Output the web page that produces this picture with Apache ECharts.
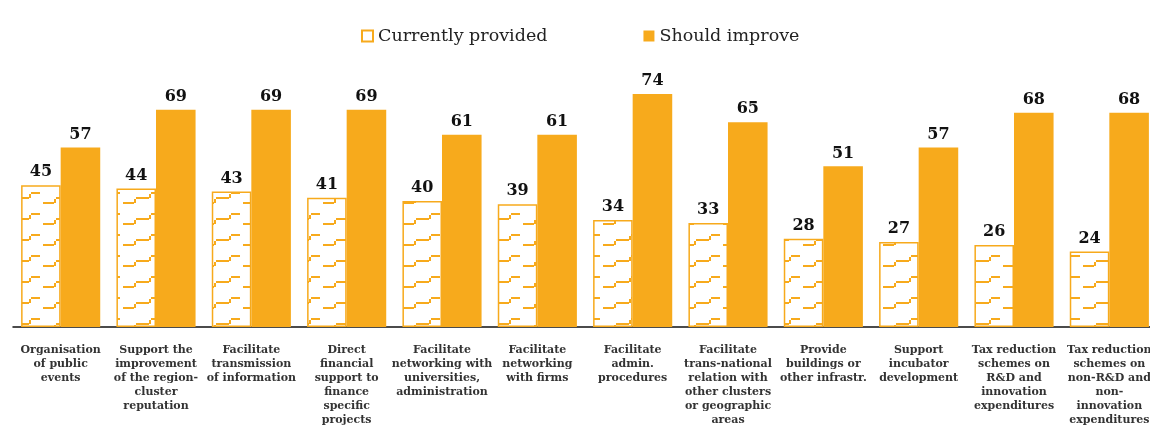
<!DOCTYPE html>
<html>
<head>
<meta charset="utf-8">
<script src="https://cdn.jsdelivr.net/npm/echarts@6/dist/echarts.min.js"></script>
<style>
html,body{margin:0;padding:0;background:#fff;overflow:hidden;}
#c{width:1158px;height:432px;}
</style>
</head>
<body>
<div id="c"></div>
<script>
const categories = [
  "Organisation\nof public\nevents",
  "Support the\nimprovement\nof the region-\ncluster\nreputation",
  "Facilitate\ntransmission\nof information",
  "Direct\nfinancial\nsupport to\nfinance\nspecific\nprojects",
  "Facilitate\nnetworking with\nuniversities,\nadministration",
  "Facilitate\nnetworking\nwith firms",
  "Facilitate\nadmin.\nprocedures",
  "Facilitate\ntrans-national\nrelation with\nother clusters\nor geographic\nareas",
  "Provide\nbuildings or\nother infrastr.",
  "Support\nincubator\ndevelopment",
  "Tax reduction\nschemes on\nR&D and\ninnovation\nexpenditures",
  "Tax reduction\nschemes on\nnon-R&D and\nnon-\ninnovation\nexpenditures"
];
const currentlyProvided = [45, 44, 43, 41, 40, 39, 34, 33, 28, 27, 26, 24];
const shouldImprove = [57, 69, 69, 69, 61, 61, 74, 65, 51, 57, 68, 68];
const seriesNames = ["Currently provided", "Should improve"];

const ORANGE = '#F7AA1C';
const SERIF = '"DejaVu Serif", "Liberation Serif", serif';

// hatch pattern tile for the "currently provided" bars
const tile = document.createElement('canvas');
tile.width = 40; tile.height = 21;
const g = tile.getContext('2d');
g.fillStyle = '#ffffff';
g.fillRect(0, 0, 40, 21);
g.fillStyle = ORANGE;
g.fillRect(3, 13, 11, 2);
g.fillRect(16, 8, 13, 2);
g.fillRect(31, 3, 9, 2);
g.fillRect(14, 10, 2, 4);
g.fillRect(29, 5, 2, 4);

const chart = echarts.init(document.getElementById('c'), null, {renderer: 'canvas'});
chart.setOption({
  animation: false,
  backgroundColor: '#ffffff',
  legend: {
    left: 356, top: 22,
    itemWidth: 11, itemHeight: 11, itemGap: 96,
    textStyle: {fontFamily: SERIF, fontSize: 17.5, color: '#222'},
    data: [
      {name: seriesNames[0], icon: 'rect', itemStyle: {color: '#fff', borderColor: ORANGE, borderWidth: 2}},
      {name: seriesNames[1], icon: 'rect', itemStyle: {color: ORANGE}}
    ]
  },
  grid: {left: 13, right: 1, top: 12, bottom: 105, containLabel: false},
  xAxis: {
    type: 'category',
    data: categories,
    axisLine: {lineStyle: {color: '#111', width: 1.5}},
    axisTick: {show: false},
    axisLabel: {
      interval: 0, margin: 16,
      fontFamily: SERIF, fontWeight: 'bold', fontSize: 11,
      lineHeight: 14, color: '#333', align: 'center'
    }
  },
  yAxis: {
    type: 'value', min: 0, max: 100,
    show: false, splitLine: {show: false}
  },
  series: [
    {
      name: seriesNames[0], type: 'bar', data: currentlyProvided,
      barGap: '0%', barCategoryGap: '17%',
      itemStyle: {color: {image: tile, repeat: 'repeat'}, borderColor: ORANGE, borderWidth: 1.5},
      label: {show: true, position: 'top', distance: 5, fontFamily: SERIF, fontWeight: 'bold', fontSize: 16, color: '#111'}
    },
    {
      name: seriesNames[1], type: 'bar', data: shouldImprove,
      barGap: '0%', barCategoryGap: '17%',
      itemStyle: {color: ORANGE},
      label: {show: true, position: 'top', distance: 5, fontFamily: SERIF, fontWeight: 'bold', fontSize: 16, color: '#111'}
    }
  ]
});
</script>
</body>
</html>
